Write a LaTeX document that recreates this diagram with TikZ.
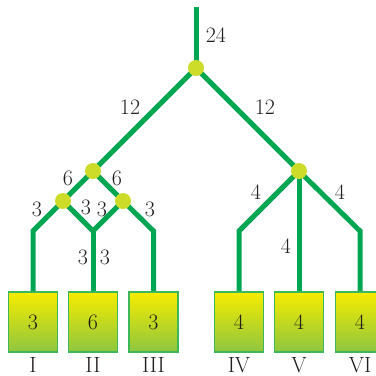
\documentclass[tikz,border=0pt]{standalone}
\usetikzlibrary{backgrounds}
\definecolor{branch}{RGB}{0,166,81}
\definecolor{knotfill}{RGB}{205,220,40}
\definecolor{boxtop}{RGB}{247,236,0}
\definecolor{boxbot}{RGB}{141,198,63}
\definecolor{boxline}{RGB}{60,184,90}
\definecolor{ink}{RGB}{35,31,32}
\begin{document}
\begin{tikzpicture}[x=1pt, y=1pt,
      knot/.style={circle, fill=knotfill, minimum size=16pt, inner sep=0pt},
      part/.style={rectangle, draw=boxline, line width=1.2pt, top color=boxtop,
                   bottom color=boxbot, minimum width=49pt, minimum height=60pt,
                   inner sep=0pt, text=ink, font=\fontsize{22}{24}\selectfont},
      num/.style={inner sep=0pt, text=ink, font=\fontsize{22}{24}\selectfont},
      wire/.style={draw=branch, line width=5pt}]
    \useasboundingbox (0,0) rectangle (376,-376);
    % split points
    \coordinate (root) at (196,-7);
    \node[knot] (t) at (196,-68) {};
    \node[knot] (a) at (93,-171) {};
    \node[knot] (b) at (299,-171) {};
    \node[knot] (a1) at (63,-201) {};
    \node[knot] (a2) at (123,-201) {};
    \coordinate (c1) at (33,-231);
    \coordinate (c2) at (93,-231);
    \coordinate (c3) at (153.5,-231);
    \coordinate (c4) at (239,-231);
    \coordinate (c5) at (360,-231);
    % parts
    \node[part] (p1) at (33,-322) {3};
    \node[part] (p2) at (93,-322) {6};
    \node[part] (p3) at (153.5,-322) {3};
    \node[part] (p4) at (239,-322) {4};
    \node[part] (p5) at (299,-322) {4};
    \node[part] (p6) at (360,-322) {4};
    \node[num, anchor=base] (n1) at (33,-372) {I};
    \node[num, anchor=base] (n2) at (93,-372) {II};
    \node[num, anchor=base] (n3) at (153.5,-372) {III};
    \node[num, anchor=base] (n4) at (239,-372) {IV};
    \node[num, anchor=base] (n5) at (299,-372) {V};
    \node[num, anchor=base] (n6) at (360,-372) {VI};
    % amounts
    \node[num] (w0) at (216,-35) {24};
    \node[num] (wl) at (130,-107) {12};
    \node[num] (wr) at (265,-107) {12};
    \node[num] (wa1) at (68,-178) {6};
    \node[num] (wa2) at (117,-178) {6};
    \node[num] (w1) at (37,-209) {3};
    \node[num] (w2) at (86,-207) {3};
    \node[num] (w3) at (102,-209) {3};
    \node[num] (w4) at (150,-209) {3};
    \node[num] (w5) at (83,-257) {3};
    \node[num] (w6) at (105,-257) {3};
    \node[num] (w7) at (256,-192) {4};
    \node[num] (w8) at (340,-192) {4};
    \node[num] (w9) at (286,-246) {4};
    \begin{scope}[on background layer]
      \draw[wire] (root) -- (t.center);
      \draw[wire] (t.center) -- (a.center);
      \draw[wire] (t.center) -- (b.center);
      \draw[wire] (a.center) -- (a1.center);
      \draw[wire] (a.center) -- (a2.center);
      \draw[wire] (a1.center) -- (c1) -- (p1.north);
      \draw[wire] (a1.center) -- (c2) -- (a2.center);
      \draw[wire] (c2) -- (p2.north);
      \draw[wire] (a2.center) -- (c3) -- (p3.north);
      \draw[wire] (b.center) -- (c4) -- (p4.north);
      \draw[wire] (b.center) -- (p5.north);
      \draw[wire] (b.center) -- (c5) -- (p6.north);
    \end{scope}
  \end{tikzpicture}
\end{document}
